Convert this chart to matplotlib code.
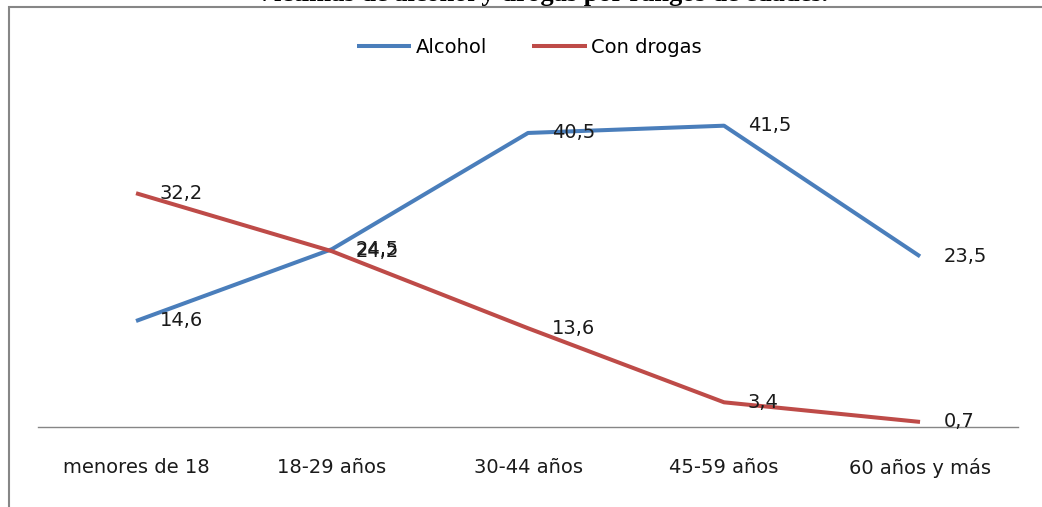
import matplotlib.pyplot as plt
from matplotlib.patches import Rectangle

categories = ["menores de 18", "18-29 años", "30-44 años", "45-59 años", "60 años y más"]
alcohol = [14.6, 24.5, 40.5, 41.5, 23.5]
drogas = [32.2, 24.2, 13.6, 3.4, 0.7]

plt.rcParams["font.family"] = ["DejaVu Sans"]

fig = plt.figure(figsize=(10.42, 5.07), dpi=100)
ax = fig.add_axes([0.0365, 0.1578, 0.9405, 0.716])

x = range(len(categories))
l1, = ax.plot(x, alcohol, color="#4A7EBB", lw=2.9, label="Alcohol", solid_capstyle="butt")
l2, = ax.plot(x, drogas, color="#BE4B48", lw=2.9, label="Con drogas", solid_capstyle="butt")

# value labels to the right of each point, decimal comma
for xs, ys in [(x, alcohol), (x, drogas)]:
    for xi, yi in zip(xs, ys):
        ax.annotate(f"{yi:.1f}".replace(".", ","), (xi, yi), xytext=(17, 0),
                    textcoords="offset points", va="center", ha="left",
                    fontsize=14, color="#1a1a1a")

ax.set_xlim(-0.5, len(categories) - 0.5)
ax.set_ylim(0, 50)
ax.set_xticks(list(x))
ax.set_xticklabels(categories, fontsize=14, color="#1a1a1a")
ax.tick_params(axis="x", length=0, pad=22)
ax.set_yticks([])
for s in ["top", "right", "left"]:
    ax.spines[s].set_visible(False)
ax.spines["bottom"].set_color("#868686")
ax.spines["bottom"].set_linewidth(1.0)
ax.patch.set_alpha(0)

fig.legend(handles=[l1, l2], loc="center", bbox_to_anchor=(0.508, 0.907), ncol=2,
           frameon=False, fontsize=14, handlelength=2.8, columnspacing=2.3,
           handletextpad=0.25)

# outer chart frame, running off the top-right of the picture
fig.add_artist(Rectangle((9 / 1042, -0.1), 1.2, 1.1 - 7 / 507,
                         transform=fig.transFigure, fill=False,
                         edgecolor="#868686", lw=1.5, zorder=0))

# title cut off at the top edge, as in the reference
fig.text(0.52, 1 - 0.5 / 507, "Víctimas de alcohol y drogas por rangos de edades.",
         ha="center", va="baseline", fontsize=19, fontweight="bold",
         family="Liberation Serif")

fig.savefig("out.png", dpi=100)
